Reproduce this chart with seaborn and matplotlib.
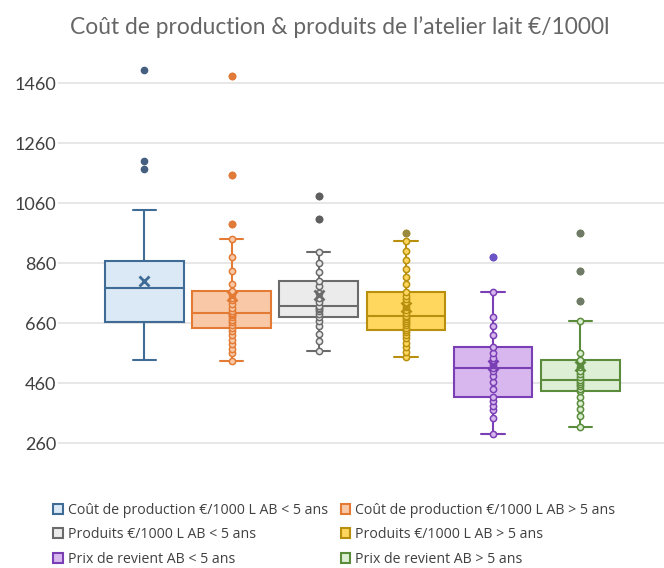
import numpy as np
import pandas as pd
import seaborn as sns
import matplotlib.pyplot as plt
from matplotlib.patches import Patch

# series names (legend text)
series = [
    "Coût de production €/1000 L AB < 5 ans",
    "Coût de production €/1000 L AB > 5 ans",
    "Produits €/1000 L AB < 5 ans",
    "Produits €/1000 L AB > 5 ans",
    "Prix de revient AB < 5 ans",
    "Prix de revient AB > 5 ans",
]

# values (quartiles, whiskers, outliers)
cout_moins5 = [536, 540, 545, 550, 560, 664, 668, 672, 680, 700, 776, 790, 815,
               835, 850, 866, 870, 1038, 1175, 1200, 1505]
cout_plus5 = [533, 560, 575, 590, 605, 620, 635, 644, 655, 665, 672, 680, 686,
              690, 694, 700, 712, 725, 738, 745, 758, 769, 790, 835, 880, 941,
              991, 1155, 1484]
produits_moins5 = [566, 600, 625, 650, 668, 681, 690, 700, 706, 712, 718, 730,
                   745, 760, 785, 802, 830, 860, 897, 1008, 1083]
produits_plus5 = [546, 565, 580, 595, 610, 620, 630, 637, 645, 655, 662, 668,
                  674, 680, 685, 695, 705, 715, 728, 740, 752, 765, 790, 815,
                  840, 870, 900, 934, 962]
prix_moins5 = [290, 345, 370, 385, 400, 415, 440, 465, 485, 500, 512, 520, 530,
               545, 560, 580, 620, 650, 680, 765, 880]
prix_plus5 = [313, 350, 375, 395, 415, 432, 440, 450, 458, 465, 472, 480, 490,
              500, 515, 536, 560, 668, 735, 833, 962]

values = [cout_moins5, cout_plus5, produits_moins5, produits_plus5,
          prix_moins5, prix_plus5]
show_points = [False, True, True, True, True, True]

fills = ["#dbe8f5", "#f9c9a7", "#ebebeb", "#ffd75f", "#d7b7ee", "#ddefd5"]
edges = ["#3e6c96", "#e37b35", "#6b6b6b", "#b8900e", "#7b3fb5", "#5b8c3b"]
outlier_cols = ["#445f80", "#e07b3a", "#5f5f5f", "#9a8a40", "#6a55c8", "#707a68"]

df = pd.DataFrame({
    "serie": np.repeat(series, [len(v) for v in values]),
    "valeur": np.concatenate(values),
})

sns.set_style("white")
plt.rcParams['font.family'] = ['Lato', 'DejaVu Sans']

fig = plt.figure(figsize=(6.64, 5.68), dpi=100)
ax = fig.add_axes([58 / 664, 1 - 473 / 568, 1 - 58 / 664, 425.5 / 568])

for i, name in enumerate(series):
    sub = df[df["serie"] == name]
    sns.boxplot(data=sub, x="serie", y="valeur", order=series, color=fills[i],
                linecolor=edges[i], saturation=1, width=0.9, linewidth=1.5,
                showmeans=True,
                meanprops=dict(marker="x", markeredgecolor=edges[i],
                               markersize=7, markeredgewidth=2, zorder=6),
                flierprops=dict(marker="o", markerfacecolor=outlier_cols[i],
                                markeredgecolor=outlier_cols[i], markersize=4.5,
                                zorder=5),
                capwidths=0.27, ax=ax)
    if show_points[i]:
        sns.stripplot(data=sub, x="serie", y="valeur", order=series,
                      jitter=False, color=fills[i], edgecolor=edges[i],
                      linewidth=1.1, size=4.5, zorder=4, ax=ax)

ax.set_xlim(-0.99, 5.96)
ax.set_ylim(160, 1580)
ax.set_yticks([260, 460, 660, 860, 1060, 1260, 1460])
ax.yaxis.grid(True, color="#e3e3e3", linewidth=1.2)
ax.set_axisbelow(True)
ax.set_xticks([])
ax.set_xlabel("")
ax.set_ylabel("")
ax.tick_params(axis="y", length=0, labelsize=13, labelcolor="#404040", pad=1)
for s in ax.spines.values():
    s.set_visible(False)

fig.text(0.512, 0.953, "Coût de production & produits de l’atelier lait €/1000l",
         ha="center", va="center", fontsize=16.4, color="#666666")

handles = [Patch(facecolor=fills[i], edgecolor=edges[i], linewidth=1.5,
                 label=series[i]) for i in [0, 2, 4, 1, 3, 5]]
fig.legend(handles=handles, ncol=2, loc="upper left",
           bbox_to_anchor=(40 / 664, 1 - 490 / 568), frameon=False,
           prop={"family": "Open Sans", "size": 10.2}, labelcolor="#404040",
           handlelength=0.7, handleheight=0.7, handletextpad=0.35,
           labelspacing=0.68, columnspacing=0.9)

fig.savefig("out.png", dpi=100)
